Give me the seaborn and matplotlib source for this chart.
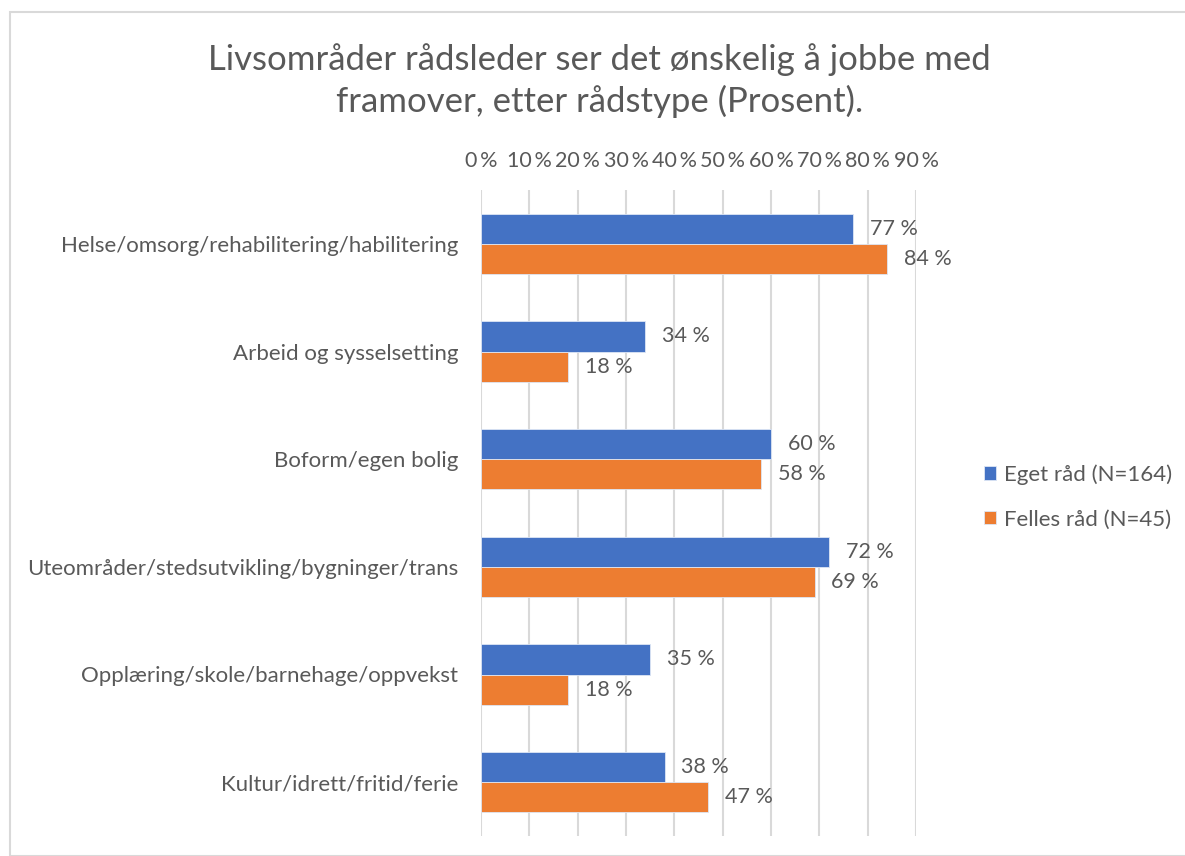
import pandas as pd
import matplotlib.pyplot as plt
import seaborn as sns
from matplotlib.patches import Rectangle

# ---- Data ---------------------------------------------------
categories = [
    "Helse/omsorg/rehabilitering/habilitering",
    "Arbeid og sysselsetting",
    "Boform/egen bolig",
    "Uteområder/stedsutvikling/bygninger/trans",
    "Opplæring/skole/barnehage/oppvekst",
    "Kultur/idrett/fritid/ferie",
]
eget_rad = [77, 34, 60, 72, 35, 38]
felles_rad = [84, 18, 58, 69, 18, 47]
series_names = ["Eget råd (N=164)", "Felles råd (N=45)"]
x_ticks = [0, 10, 20, 30, 40, 50, 60, 70, 80, 90]

df = pd.DataFrame({
    "kategori": categories * 2,
    "prosent": eget_rad + felles_rad,
    "serie": [series_names[0]] * 6 + [series_names[1]] * 6,
})

# ---- Style --------------------------------------------------
sns.set_style("white")
plt.rcParams["font.family"] = ["Lato", "DejaVu Sans"]
grey = "#595959"
colors = ["#4472C4", "#ED7D31"]

fig = plt.figure(figsize=(11.85, 8.56), dpi=100)
ax = fig.add_axes([481 / 1185, 1 - 836 / 856, (916 - 481) / 1185, (836 - 190) / 856])

sns.barplot(
    data=df, y="kategori", x="prosent", hue="serie",
    palette=colors, saturation=1, orient="h", width=0.56, ax=ax,
    edgecolor="#dde6f5", linewidth=0.6, legend=True,
)

# value labels
for container in ax.containers:
    ax.bar_label(container, labels=[f"{v:.0f} %" for v in container.datavalues],
                 padding=12, fontsize=15.5, color=grey)

ax.set_xlim(0, 90)
ax.set_ylim(5.5, -0.5)
ax.set_xticks(x_ticks)
ax.set_xticklabels([f"{t}\u2009%" for t in x_ticks])
ax.xaxis.tick_top()
ax.tick_params(axis="x", length=0, pad=14, labelsize=15.5, colors=grey)
ax.tick_params(axis="y", length=0, pad=16.5, labelsize=16, colors=grey)
ax.set_xlabel("")
ax.set_ylabel("")
ax.grid(axis="x", color="#d9d9d9", linewidth=1.5)
ax.set_axisbelow(True)
for s in ax.spines.values():
    s.set_visible(False)

ax.legend(loc="center left", bbox_to_anchor=(1.11, 0.525), frameon=False,
          fontsize=16, labelcolor=grey, handlelength=0.55, handleheight=0.55,
          handletextpad=0.35, labelspacing=1.1)

fig.text(0.506, 0.906, "Livsområder rådsleder ser det ønskelig å jobbe med\nframover, etter rådstype (Prosent).",
         ha="center", va="center", fontsize=25, color=grey, linespacing=1.35)

# chart border
fig.patches.append(Rectangle((10 / 1185, 0), 1.2, 1 - 12 / 856, transform=fig.transFigure,
                             fill=False, edgecolor="#d9d9d9", linewidth=1.5))

plt.savefig("out.png", dpi=100)
plt.close()
